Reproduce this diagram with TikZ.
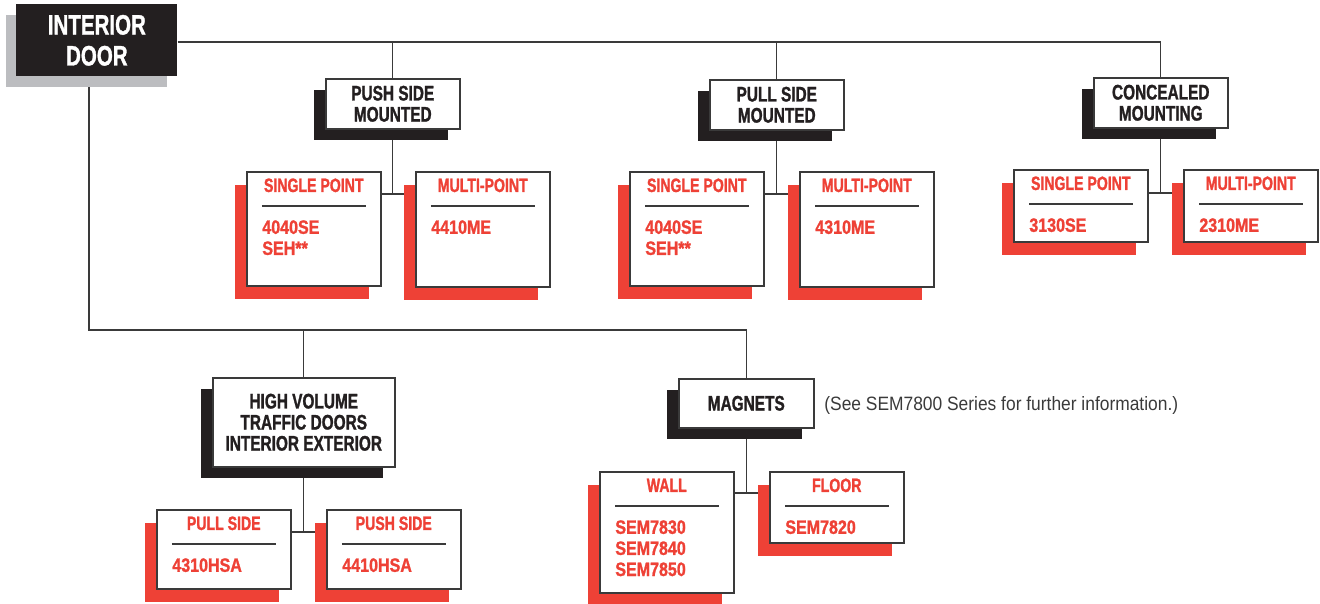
\documentclass[tikz,border=0pt]{standalone}
\usepackage{fontspec}
\usepackage{tikz}
\usetikzlibrary{shadows, backgrounds}
\newfontfamily\headfont[FakeStretch=0.73, BoldFeatures={FakeBold=1.2}]{Liberation Sans}
\newfontfamily\codefont[FakeStretch=0.83, BoldFeatures={FakeBold=1.2}]{Liberation Sans}
\newfontfamily\notefont[FakeStretch=0.9]{Liberation Sans}
\definecolor{inkblack}{HTML}{231F20}
\definecolor{linegrey}{HTML}{3A3A3A}
\definecolor{doorgrey}{HTML}{BCBDC0}
\definecolor{sered}{HTML}{EE4136}
\tikzstyle{door} = [rectangle, fill=inkblack, text=white, minimum width=3.22cm, minimum height=1.44cm, anchor=north west, align=center, font=\headfont\bfseries\fontsize{16}{17.6}\selectfont, general shadow={fill=doorgrey, shadow xshift=-0.2cm, shadow yshift=-0.22cm}]
\tikzstyle{heading} = [rectangle, draw=linegrey, line width=0.9pt, fill=white, text=inkblack, anchor=north west, align=center, inner sep=0pt, minimum width=2.68cm, minimum height=1cm, font=\headfont\bfseries\fontsize{12}{12}\selectfont, general shadow={fill=inkblack, shadow xshift=-0.23cm, shadow yshift=-0.23cm}]
\tikzstyle{option} = [rectangle, draw=linegrey, line width=0.9pt, fill=white, anchor=north west, inner sep=0pt, minimum width=2.68cm, general shadow={fill=sered, shadow xshift=-0.24cm, shadow yshift=-0.26cm}]
\tikzstyle{opttitle} = [anchor=base, inner sep=0pt, text=sered, font=\headfont\bfseries\fontsize{11}{12}\selectfont]
\tikzstyle{optcodes} = [anchor=north west, inner sep=0pt, align=left, text=sered, font=\codefont\bfseries\fontsize{11}{12}\selectfont]
\tikzstyle{optrule} = [line width=0.7pt, draw=linegrey]
\tikzstyle{link} = [line width=0.7pt, draw=linegrey]
\tikzstyle{note} = [anchor=base west, inner sep=0pt, text=linegrey, font=\notefont\fontsize{11}{12}\selectfont]

% name, corner, height, title, codes
\newcommand{\optbox}[5]{%
  \node (#1) [option, minimum height=#3] at (#2) {};
  \node (#1-title) [opttitle] at ([yshift=-0.42cm]#1.north) {#4};
  \draw [optrule] ([xshift=0.32cm, yshift=-0.7cm]#1.north west) -- ([xshift=-0.32cm, yshift=-0.7cm]#1.north east);
  \node (#1-codes) [optcodes] at ([xshift=0.32cm, yshift=-0.98cm]#1.north west) {#5};
}

\begin{document}
\begin{tikzpicture}[x=0.02cm, y=-0.02cm]
    \useasboundingbox (0,0) rectangle (1320,604);

    % main branches
    \node (door) [door] at (16,4) {INTERIOR\\DOOR};
    \node (push) [heading] at (325,78) {PUSH SIDE\\MOUNTED};
    \node (pull) [heading] at (709,79) {PULL SIDE\\MOUNTED};
    \node (hidden) [heading] at (1093,77) {CONCEALED\\MOUNTING};
    \node (highvol) [heading, minimum width=3.64cm, minimum height=1.78cm] at (212,377) {HIGH VOLUME\\TRAFFIC DOORS\\INTERIOR EXTERIOR};
    \node (magnets) [heading, minimum width=2.7cm, minimum height=0.98cm] at (678,378) {MAGNETS};
    \node (note) [note] at (824,411) {(See SEM7800 Series for further information.)};

    % products
    \optbox{pushS}{246,171}{2.28cm}{SINGLE POINT}{4040SE\\SEH**}
    \optbox{pushM}{415,171}{2.3cm}{MULTI-POINT}{4410ME}
    \optbox{pullS}{629,171}{2.28cm}{SINGLE POINT}{4040SE\\SEH**}
    \optbox{pullM}{799,171}{2.3cm}{MULTI-POINT}{4310ME}
    \optbox{hidS}{1013,169}{1.44cm}{SINGLE POINT}{3130SE}
    \optbox{hidM}{1183,169}{1.44cm}{MULTI-POINT}{2310ME}
    \optbox{hvpull}{156,509}{1.58cm}{PULL SIDE}{4310HSA}
    \optbox{hvpush}{326,509}{1.58cm}{PUSH SIDE}{4410HSA}
    \optbox{wall}{599,471}{2.42cm}{WALL}{SEM7830\\SEM7840\\SEM7850}
    \optbox{floor}{769,471}{1.42cm}{FLOOR}{SEM7820}

    % connectors
    \coordinate (topline) at (1160,42);
    \coordinate (trunk) at (89,330);
    \coordinate (pushfork) at (391,194);
    \coordinate (pullfork) at (775,194);
    \coordinate (hidfork) at (1160,193);
    \coordinate (hvfork) at (302,532);
    \coordinate (magfork) at (745,493);

    \begin{scope}[on background layer]
    \draw [link] (door.east |- topline) -| (hidden.north);
    \draw [link] (push.north) -- (push.north |- topline);
    \draw [link] (pull.north) -- (pull.north |- topline);
    \draw [link] (door.south -| trunk) -- (trunk) -| (magnets.north);
    \draw [link] (highvol.north) -- (highvol.north |- trunk);

    \draw [link] (push.south) -- (push.south |- pushfork);
    \draw [link] (pushS.east |- pushfork) -- (pushM.west |- pushfork);
    \draw [link] (pull.south) -- (pull.south |- pullfork);
    \draw [link] (pullS.east |- pullfork) -- (pullM.west |- pullfork);
    \draw [link] (hidden.south) -- (hidden.south |- hidfork);
    \draw [link] (hidS.east |- hidfork) -- (hidM.west |- hidfork);
    \draw [link] (highvol.south) -- (highvol.south |- hvfork);
    \draw [link] (hvpull.east |- hvfork) -- (hvpush.west |- hvfork);
    \draw [link] (magnets.south) -- (magnets.south |- magfork);
    \draw [link] (wall.east |- magfork) -- (floor.west |- magfork);
    \end{scope}
\end{tikzpicture}
\end{document}
